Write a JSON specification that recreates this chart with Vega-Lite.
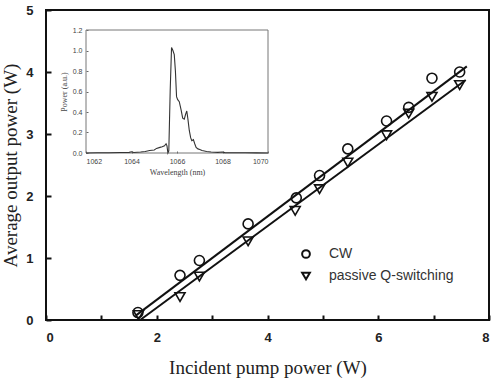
{
  "$schema": "https://vega.github.io/schema/vega-lite/v6.json",
  "width": 443,
  "height": 310,
  "autosize": "none",
  "padding": {"left": 46, "top": 10, "right": 6, "bottom": 64},
  "background": "white",
  "config": {
    "view": {"stroke": "#111", "strokeWidth": 2},
    "font": "Liberation Sans"
  },
  "datasets": {
    "measured": [
      {"pump": 1.66, "power": 0.12, "mode": "CW"},
      {"pump": 2.42, "power": 0.72, "mode": "CW"},
      {"pump": 2.77, "power": 0.96, "mode": "CW"},
      {"pump": 3.65, "power": 1.55, "mode": "CW"},
      {"pump": 4.52, "power": 1.97, "mode": "CW"},
      {"pump": 4.94, "power": 2.33, "mode": "CW"},
      {"pump": 5.45, "power": 2.76, "mode": "CW"},
      {"pump": 6.15, "power": 3.21, "mode": "CW"},
      {"pump": 6.55, "power": 3.43, "mode": "CW"},
      {"pump": 6.97, "power": 3.90, "mode": "CW"},
      {"pump": 7.47, "power": 4.00, "mode": "CW"},
      {"pump": 1.67, "power": 0.08, "mode": "passive Q-switching"},
      {"pump": 2.42, "power": 0.37, "mode": "passive Q-switching"},
      {"pump": 2.77, "power": 0.70, "mode": "passive Q-switching"},
      {"pump": 3.65, "power": 1.27, "mode": "passive Q-switching"},
      {"pump": 4.50, "power": 1.76, "mode": "passive Q-switching"},
      {"pump": 4.94, "power": 2.11, "mode": "passive Q-switching"},
      {"pump": 5.45, "power": 2.54, "mode": "passive Q-switching"},
      {"pump": 6.15, "power": 2.98, "mode": "passive Q-switching"},
      {"pump": 6.55, "power": 3.33, "mode": "passive Q-switching"},
      {"pump": 6.97, "power": 3.60, "mode": "passive Q-switching"},
      {"pump": 7.47, "power": 3.79, "mode": "passive Q-switching"}
    ],
    "fits": [
      {"pump": 1.62, "power": 0.07, "mode": "CW"},
      {"pump": 7.60, "power": 4.09, "mode": "CW"},
      {"pump": 1.70, "power": 0.00, "mode": "passive Q-switching"},
      {"pump": 7.58, "power": 3.87, "mode": "passive Q-switching"}
    ],
    "frame": [
      {"w0": 1062, "w1": 1070, "p0": 0, "p1": 1.2}
    ],
    "spectrum": [
      {"wl": 1062.0, "p": 0.0},
      {"wl": 1062.5, "p": 0.002},
      {"wl": 1063.0, "p": 0.003},
      {"wl": 1063.5, "p": 0.005},
      {"wl": 1063.9, "p": 0.006},
      {"wl": 1064.0, "p": 0.012},
      {"wl": 1064.1, "p": 0.005},
      {"wl": 1064.4, "p": 0.01},
      {"wl": 1064.6, "p": 0.015},
      {"wl": 1064.8, "p": 0.025},
      {"wl": 1065.0, "p": 0.03},
      {"wl": 1065.1, "p": 0.045},
      {"wl": 1065.25, "p": 0.055},
      {"wl": 1065.35, "p": 0.06},
      {"wl": 1065.45, "p": 0.07},
      {"wl": 1065.52, "p": 0.09},
      {"wl": 1065.56, "p": 0.07},
      {"wl": 1065.6, "p": 0.0},
      {"wl": 1065.64, "p": 0.02},
      {"wl": 1065.7, "p": 0.6},
      {"wl": 1065.76, "p": 1.03},
      {"wl": 1065.82, "p": 1.0},
      {"wl": 1065.88, "p": 0.96},
      {"wl": 1065.93, "p": 0.8},
      {"wl": 1065.98, "p": 0.55},
      {"wl": 1066.03, "p": 0.52},
      {"wl": 1066.1, "p": 0.5},
      {"wl": 1066.18, "p": 0.42},
      {"wl": 1066.25, "p": 0.34},
      {"wl": 1066.32, "p": 0.33},
      {"wl": 1066.38, "p": 0.38},
      {"wl": 1066.43, "p": 0.41},
      {"wl": 1066.48, "p": 0.33},
      {"wl": 1066.54, "p": 0.22},
      {"wl": 1066.6, "p": 0.15},
      {"wl": 1066.65, "p": 0.12},
      {"wl": 1066.72, "p": 0.13},
      {"wl": 1066.78, "p": 0.09},
      {"wl": 1066.84, "p": 0.055},
      {"wl": 1066.92, "p": 0.04},
      {"wl": 1067.0, "p": 0.035},
      {"wl": 1067.1, "p": 0.025},
      {"wl": 1067.3, "p": 0.015},
      {"wl": 1067.5, "p": 0.01},
      {"wl": 1067.8, "p": 0.006},
      {"wl": 1068.0, "p": 0.01},
      {"wl": 1068.1, "p": 0.004},
      {"wl": 1068.5, "p": 0.003},
      {"wl": 1069.0, "p": 0.002},
      {"wl": 1069.5, "p": 0.001},
      {"wl": 1070.0, "p": 0.0}
    ]
  },
  "layer": [
    {
      "layer": [
        {
          "data": {"name": "fits"},
          "mark": {"type": "line", "color": "#111", "strokeWidth": 2},
          "encoding": {
            "x": {"field": "pump", "type": "quantitative"},
            "y": {"field": "power", "type": "quantitative"},
            "detail": {"field": "mode"}
          }
        },
        {
          "data": {"name": "measured"},
          "mark": {"type": "point", "filled": false, "stroke": "#111", "strokeWidth": 1.6, "size": 100, "opacity": 1},
          "encoding": {
            "x": {
              "field": "pump", "type": "quantitative",
              "scale": {"domain": [0, 8], "nice": false},
              "axis": {
                "title": "Incident pump power (W)",
                "values": [0, 1, 2, 3, 4, 5, 6, 7, 8],
                "format": "d",
                "labelExpr": "datum.value % 2 === 0 ? datum.label : ''",
                "domain": false, "grid": false,
                "tickSize": -5, "tickWidth": 2, "tickColor": "#111",
                "labelFont": "Liberation Sans", "labelFontWeight": "bold", "labelFontSize": 13, "labelColor": "#222",
                "labelPadding": 16,
                "titleFont": "Liberation Serif", "titleFontWeight": "normal", "titleFontSize": 19, "titleColor": "#222",
                "titlePadding": 14
              }
            },
            "y": {
              "field": "power", "type": "quantitative",
              "scale": {"domain": [0, 5], "nice": false},
              "axis": {
                "title": "Average output power (W)",
                "values": [0, 1, 2, 3, 4, 5],
                "format": "d",
                "domain": false, "grid": false,
                "tickSize": -5, "tickWidth": 2, "tickColor": "#111",
                "labelFont": "Liberation Sans", "labelFontWeight": "bold", "labelFontSize": 13, "labelColor": "#222",
                "labelPadding": 18,
                "titleFont": "Liberation Serif", "titleFontWeight": "normal", "titleFontSize": 19, "titleColor": "#222",
                "titlePadding": 5
              }
            },
            "shape": {
              "field": "mode", "type": "nominal",
              "scale": {"domain": ["CW", "passive Q-switching"], "range": ["circle", "triangle-down"]},
              "legend": {
                "title": null, "orient": "none", "legendX": 253, "legendY": 237,
                "symbolSize": 60, "symbolStrokeWidth": 2, "symbolStrokeColor": "#111", "symbolFillColor": "transparent",
                "labelFont": "Liberation Sans", "labelFontSize": 14, "labelColor": "#333",
                "labelOffset": 16, "rowPadding": 6
              }
            }
          }
        }
      ]
    },
    {
      "layer": [
        {
          "data": {"name": "frame"},
          "mark": {"type": "rect", "fill": null, "fillOpacity": 0, "stroke": "#777", "strokeWidth": 1},
          "encoding": {
            "x": {"field": "w0", "type": "quantitative"},
            "x2": {"field": "w1"},
            "y": {"field": "p0", "type": "quantitative"},
            "y2": {"field": "p1"}
          }
        },
        {
          "data": {"name": "spectrum"},
          "mark": {"type": "line", "color": "#333", "strokeWidth": 1.1},
          "encoding": {
            "x": {
              "field": "wl", "type": "quantitative",
              "scale": {"domain": [1062, 1070], "range": [40, 222], "nice": false, "zero": false},
              "axis": {
                "orient": "bottom", "offset": -167,
                "title": "Wavelength (nm)",
                "values": [1062, 1064, 1066, 1068, 1070],
                "format": "d",
                "domain": false, "grid": false,
                "tickSize": -2, "tickColor": "#666",
                "labelFont": "Liberation Sans", "labelFontSize": 7, "labelColor": "#444",
                "labelPadding": 6,
                "titleFont": "Liberation Serif", "titleFontWeight": "normal", "titleFontSize": 8, "titleColor": "#444",
                "titlePadding": 4
              }
            },
            "y": {
              "field": "p", "type": "quantitative",
              "scale": {"domain": [0, 1.2], "range": [143, 20], "nice": false},
              "axis": {
                "orient": "left", "offset": -40,
                "title": "Power (a.u.)",
                "values": [0, 0.2, 0.4, 0.6, 0.8, 1.0, 1.2],
                "format": ".1f",
                "domain": false, "grid": false,
                "tickSize": -2, "tickColor": "#666",
                "labelFont": "Liberation Sans", "labelFontSize": 7, "labelColor": "#444",
                "labelPadding": 6,
                "titleFont": "Liberation Serif", "titleFontWeight": "normal", "titleFontSize": 8, "titleColor": "#444",
                "titlePadding": 4
              }
            }
          }
        }
      ]
    }
  ],
  "resolve": {"scale": {"x": "independent", "y": "independent"}, "axis": {"x": "independent", "y": "independent"}}
}
